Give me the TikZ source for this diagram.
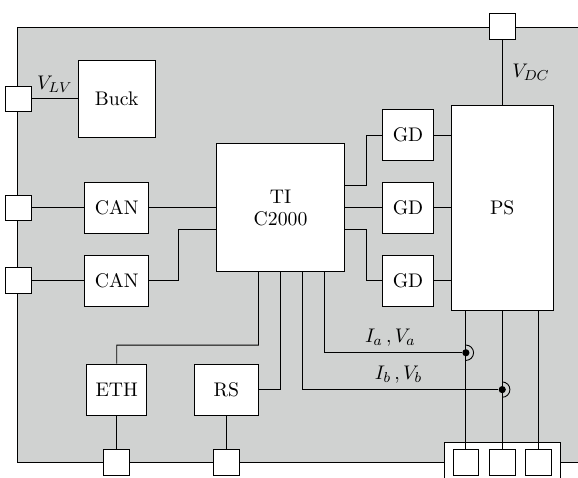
\documentclass[tikz,border=0pt]{standalone}
\usepackage{amsmath}
\usetikzlibrary{positioning}
\definecolor{boardgray}{RGB}{208,210,209}
\tikzset{
	every node/.style={font=\fontsize{10.95}{12}\selectfont},
	block/.style={draw, fill=white, align=center, inner sep=0pt},
	port/.style={block, minimum size=0.5cm},
	gd/.style={block, minimum size=1cm},
	can/.style={block, minimum width=1.25cm, minimum height=1cm},
	sense/.style={circle, fill=black, inner sep=0pt, minimum size=0.14cm}
}
\begin{document}
\begin{tikzpicture}[line width=0.5pt]
	\useasboundingbox[clip] (-5.48,-5.27) rectangle (5.81,4.06);
	\draw[fill=boardgray] (-5.14,3.53) rectangle (6.2,-4.97);
	\node[block, minimum size=2.5cm] (ti) at (0,0) {TI\\C2000};
	\node[block, minimum size=1.5cm] (buck) at (-3.2,2.13) {Buck};
	\node[can] (can1) at (-3.2,0) {CAN};
	\node[can] (can2) at (-3.2,-1.42) {CAN};
	\node[gd] (gd1) at (2.49,1.42) {GD};
	\node[gd] (gd2) at (2.49,0) {GD};
	\node[gd] (gd3) at (2.49,-1.42) {GD};
	\node[block, minimum width=2cm, minimum height=4cm] (ps) at (4.33,0) {PS};
	\node[block, minimum width=1.17cm, minimum height=1cm] (eth) at (-3.2,-3.55) {ETH};
	\node[block, minimum width=1.25cm, minimum height=1cm] (rs) at (-1.06,-3.55) {RS};
	\node[draw, fill=white, minimum width=2.26cm, minimum height=1cm, inner sep=0pt] (conn) at (4.33,-5.09) {};
	\node[port] (plv) at (-5.12,2.13) {};
	\node[port] (pcan1) at (-5.12,0) {};
	\node[port] (pcan2) at (-5.12,-1.42) {};
	\node[port] (pdc) at (4.33,3.54) {};
	\node[port] (peth) at (-3.2,-4.97) {};
	\node[port] (prs) at (-1.06,-4.97) {};
	\node[port] (pa) at (3.62,-4.97) {};
	\node[port] (pb) at (4.33,-4.97) {};
	\node[port] (pc) at (5.04,-4.97) {};
	\node[sense] (sa) at (3.62,-2.83) {};
	\node[sense] (sb) at (4.33,-3.55) {};
	\coordinate (ti1) at (-0.43,-1.25);
	\coordinate (ti2) at (0,-1.25);
	\coordinate (ti3) at (0.43,-1.25);
	\coordinate (ti4) at (0.85,-1.25);
	\coordinate (tir1) at (1.25,0.43);
	\coordinate (tir3) at (1.25,-0.43);
	\coordinate (til) at (-1.25,-0.43);
	\draw (plv) -- node[above=0pt] {$V_{LV}$} (buck);
	\draw (pcan1) -- (can1) -- (ti);
	\draw (pcan2) -- (can2);
	\draw (can2.east) -- ++(0.58,0) |- (til);
	\draw (pdc) -- node[right=2pt, pos=0.5] {$V_{DC}$} (ps);
	\draw (tir1) -- ++(0.43,0) |- (gd1);
	\draw (ti) -- (gd2) -- (ps);
	\draw (tir3) -- ++(0.43,0) |- (gd3);
	\draw (gd1) -- (gd1 -| ps.west);
	\draw (gd3) -- (gd3 -| ps.west);
	\draw (ti1) |- ++(-2.77,-1.43) -- (eth);
	\draw (ti2) |- (rs);
	\draw (ti3) |- node[above=0pt, pos=0.745] {$I_b\,,V_b$} (sb);
	\draw (ti4) |- node[above=0pt, pos=0.74] {$I_a\,,V_a$} (sa);
	\draw (eth) -- (peth);
	\draw (rs) -- (prs);
	\draw (sa |- ps.south) -- (pa);
	\draw (ps) -- (pb);
	\draw (pc |- ps.south) -- (pc);
	\draw (sa) ++(0,0.15) arc (90:-90:0.15);
	\draw (sb) ++(0,0.15) arc (90:-90:0.15);
\end{tikzpicture}
\end{document}
